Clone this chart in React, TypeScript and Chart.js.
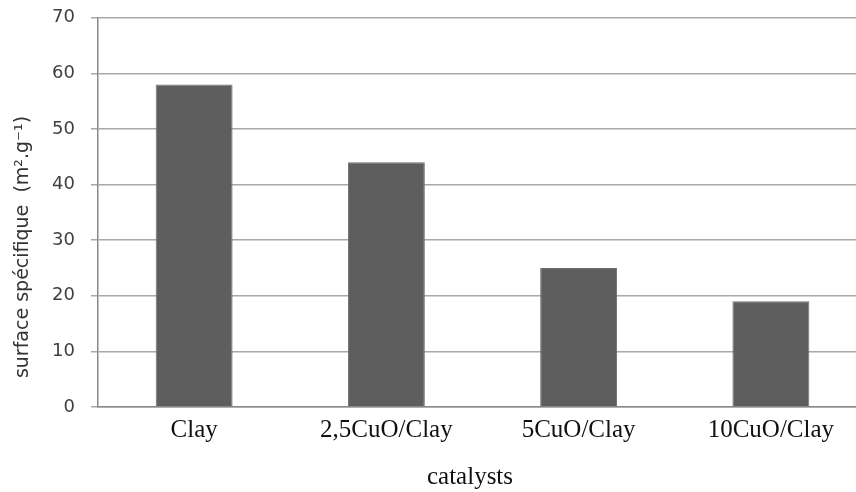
import React, { useEffect, useRef } from "react";
import { Chart, registerables } from "chart.js";

Chart.register(...registerables);

const categories = ["Clay", "2,5CuO/Clay", "5CuO/Clay", "10CuO/Clay"];
const surfaceValues = [58, 44, 25, 19];
const yTitle = "surface spécifique  (m².g⁻¹)";
const xTitle = "catalysts";

const titlesPlugin = {
  id: "axisTitles",
  afterDraw(chart: any) {
    const { ctx, chartArea } = chart;
    ctx.save();
    ctx.fillStyle = "#333333";
    ctx.font = "19px 'DejaVu Sans'";
    ctx.textAlign = "center";
    ctx.textBaseline = "alphabetic";
    ctx.translate(28, chartArea.bottom - 160);
    ctx.rotate(-Math.PI / 2);
    ctx.fillText(yTitle, 0, 0);
    ctx.restore();

    ctx.save();
    ctx.fillStyle = "#111111";
    ctx.font = "25px 'Liberation Serif'";
    ctx.textAlign = "center";
    ctx.textBaseline = "alphabetic";
    ctx.fillText(xTitle, 470, chartArea.bottom + 77);
    ctx.restore();
  },
};

export default function App() {
  const ref = useRef<HTMLCanvasElement | null>(null);

  useEffect(() => {
    if (!ref.current) return;
    const chart = new Chart(ref.current, {
      type: "bar",
      data: {
        labels: categories,
        datasets: [
          {
            data: surfaceValues,
            backgroundColor: "#5e5e5e",
            borderColor: "#6e6e6e",
            borderWidth: 1,
            categoryPercentage: 1,
            barPercentage: 0.4,
          },
        ],
      },
      options: {
        animation: false,
        responsive: false,
        layout: { padding: { top: 8, right: 3, left: 0, bottom: 0 } },
        plugins: { legend: { display: false }, tooltip: { enabled: false } },
        scales: {
          x: {
            offset: true,
            grid: { display: false, drawTicks: false },
            border: { display: true, color: "#8a8a8a", width: 1.5 },
            ticks: {
              color: "#111111",
              font: { family: "'Liberation Serif'", size: 25 },
              padding: 8,
              maxRotation: 0,
              autoSkip: false,
            },
            afterFit(scale: any) {
              scale.height = 85;
            },
          },
          y: {
            min: 0,
            max: 70,
            grid: { color: "#a8a8a8", lineWidth: 1.5, tickLength: 7 },
            border: { display: true, color: "#8a8a8a", width: 1.5 },
            ticks: {
              stepSize: 10,
              color: "#404040",
              font: { family: "'DejaVu Sans'", size: 18 },
              padding: 16,
            },
            afterFit(scale: any) {
              scale.width = 98;
            },
          },
        },
      },
      plugins: [titlesPlugin],
    });
    return () => chart.destroy();
  }, []);

  return (
    <div
      style={{
        position: "fixed",
        left: 0,
        top: 0,
        width: 856,
        height: 492,
        overflow: "hidden",
        background: "#ffffff",
      }}
    >
      <canvas
        ref={ref}
        width={870}
        height={501}
        style={{ display: "block", position: "absolute", left: 0, top: -9, width: 870, height: 501 }}
      />
    </div>
  );
}
